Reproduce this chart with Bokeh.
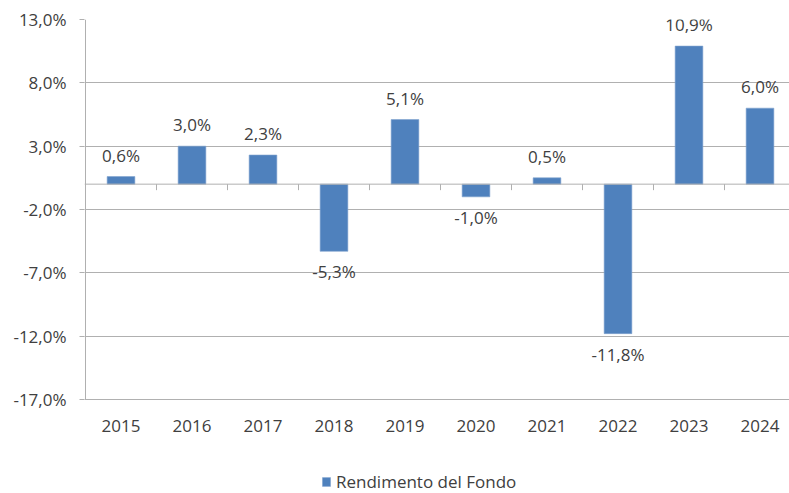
from bokeh.plotting import figure
from bokeh.models import (ColumnDataSource, FixedTicker, Span, Range1d, Legend, LegendItem)
from bokeh.embed import file_html
from bokeh.resources import INLINE
from bokeh.core.properties import value

years = ["2015", "2016", "2017", "2018", "2019", "2020", "2021", "2022", "2023", "2024"]
returns = [0.6, 3.0, 2.3, -5.3, 5.1, -1.0, 0.5, -11.8, 10.9, 6.0]
y_ticks = [-17.0, -12.0, -7.0, -2.0, 3.0, 8.0, 13.0]
series_name = "Rendimento del Fondo"

FONT = "Open Sans"
TXT = "#404040"
BAR = "#4F81BD"
GRID = "#B0B0B0"

PX_X = 71.0            # pixels per category
PX_Y = 380.0 / (y_ticks[-1] - y_ticks[0])   # pixels per percentage point
BOTTOM_PAD = 94        # pixels below the -17% line (labels + legend)

def fmt(v):
    return f"{v:.1f}".replace(".", ",") + "%"

idx = list(range(len(years)))
src = ColumnDataSource(dict(x=idx, top=returns))
pos = ColumnDataSource(dict(x=[i for i, v in zip(idx, returns) if v >= 0],
                            y=[v for v in returns if v >= 0],
                            label=[fmt(v) for v in returns if v >= 0]))
neg = ColumnDataSource(dict(x=[i for i, v in zip(idx, returns) if v < 0],
                            y=[v for v in returns if v < 0],
                            label=[fmt(v) for v in returns if v < 0]))
cats = ColumnDataSource(dict(x=idx, y=[y_ticks[0]] * len(idx), label=years))

x0 = -0.5 - 1 / PX_X
p = figure(width=789, height=493, output_backend="svg", toolbar_location=None,
           x_range=Range1d(x0, x0 + 705 / PX_X),
           y_range=Range1d(y_ticks[0] - BOTTOM_PAD / PX_Y, y_ticks[-1]),
           min_border_left=84, min_border_top=19, min_border_bottom=0, min_border_right=0)
p.outline_line_color = None
p.background_fill_color = "white"

# gridlines
p.xgrid.grid_line_color = None
p.ygrid.grid_line_color = GRID
p.ygrid.grid_line_width = 1
p.ygrid.ticker = FixedTicker(ticks=y_ticks)

# y axis (axis line drawn separately so it stops at the bottom gridline)
p.yaxis.ticker = FixedTicker(ticks=y_ticks)
p.yaxis.major_label_overrides = {t: fmt(t) for t in y_ticks}
p.yaxis.axis_line_color = None
p.yaxis.major_tick_line_color = GRID
p.yaxis.major_tick_out = 5
p.yaxis.major_tick_in = 0
p.yaxis.minor_tick_line_color = None
p.yaxis.major_label_standoff = 13
p.yaxis.major_label_text_font = FONT
p.yaxis.major_label_text_font_size = "17px"
p.yaxis.major_label_text_color = TXT
p.segment(x0=[-0.5], y0=[y_ticks[0]], x1=[-0.5], y1=[y_ticks[-1]],
          line_color=GRID, line_width=1)

p.xaxis.visible = False

# zero line and category boundary ticks
p.add_layout(Span(location=0, dimension="width", line_color=GRID, line_width=1))
bounds = [i + 0.5 for i in idx]
p.segment(x0=bounds, y0=[0] * len(bounds), x1=bounds, y1=[-6 / PX_Y] * len(bounds),
          line_color=GRID, line_width=1)

bars = p.vbar(x="x", top="top", bottom=0, width=0.39, source=src,
              fill_color=BAR, line_color="#7FA3CF", line_width=0.6)

# category labels under the plot area
p.text(x="x", y="y", text="label", source=cats, text_align="center",
       text_baseline="middle", y_offset=26, text_font=value(FONT),
       text_font_size="17px", text_color=TXT)

# data labels
p.text(x="x", y="y", text="label", source=pos, text_align="center",
       text_baseline="bottom", y_offset=-10, text_font=value(FONT),
       text_font_size="17px", text_color=TXT)
p.text(x="x", y="y", text="label", source=neg, text_align="center",
       text_baseline="top", y_offset=9, text_font=value(FONT),
       text_font_size="17px", text_color=TXT)

legend = Legend(items=[LegendItem(label=series_name, renderers=[bars])],
                location=(237, 0), orientation="horizontal",
                glyph_width=10, glyph_height=11, label_standoff=5,
                padding=0, margin=0, spacing=0,
                border_line_color=None, background_fill_alpha=0,
                label_text_font=FONT, label_text_font_size="17px",
                label_text_color=TXT)
p.add_layout(legend, "center")

open("out.html", "w").write(file_html(p, INLINE))
